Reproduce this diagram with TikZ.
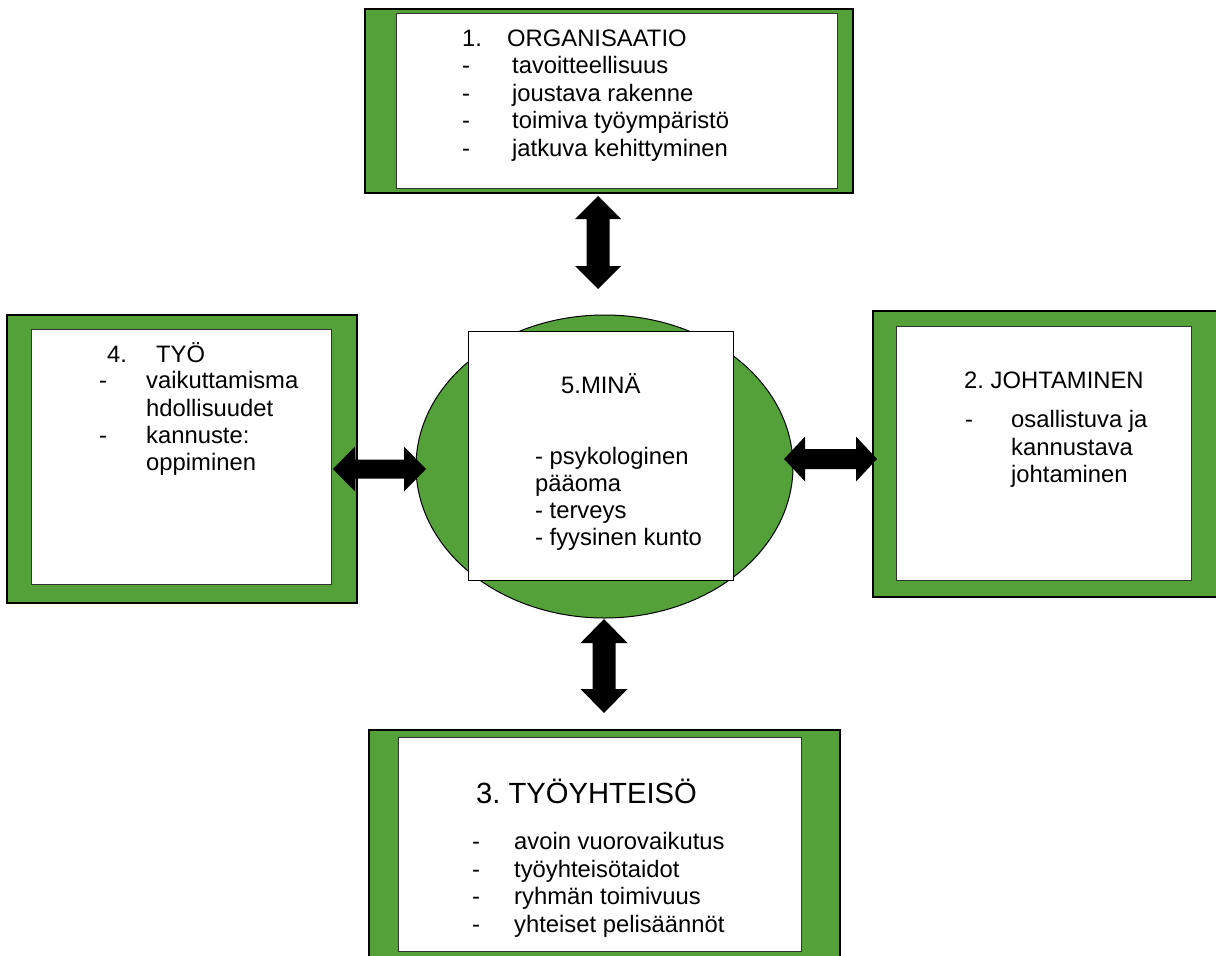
\documentclass[tikz,border=0pt]{standalone}
\usepackage{fontspec}
\setmainfont{Liberation Sans}
\frenchspacing
\usetikzlibrary{calc,shapes.geometric}
\definecolor{grn}{RGB}{84,161,58}
\begin{document}
\begin{tikzpicture}[x=1pt,y=-1pt,
  outerbox/.style={rectangle,fill=grn,draw=black,line width=2.5pt,inner sep=0pt},
  innerbox/.style={rectangle,fill=white,draw=black!80,line width=1pt,inner sep=0pt},
  oval/.style={ellipse,fill=grn,draw=black,line width=1pt,inner sep=0pt},
  txt/.style={anchor=base west,inner sep=0pt,font=\fontsize{23.8}{27}\selectfont\frenchspacing},
  big/.style={anchor=base west,inner sep=0pt,font=\fontsize{29.2}{33}\selectfont\frenchspacing},
  blockarrow/.style={fill=black}]
\useasboundingbox (0,0) rectangle (1216,956);
\clip (0,0) rectangle (1216,956);

% boxes
\node[outerbox,minimum width=488pt,minimum height=184pt] (orgO) at (609,101) {};
\node[innerbox,minimum width=441pt,minimum height=175pt] (org) at (616.5,100.5) {};
\node[outerbox,minimum width=350pt,minimum height=288pt] (tyoO) at (182,459) {};
\node[innerbox,minimum width=300pt,minimum height=255pt] (tyo) at (181,456.5) {};
\node[outerbox,minimum width=347pt,minimum height=286pt] (johO) at (1046.5,454) {};
\node[innerbox,minimum width=295pt,minimum height=254pt] (joh) at (1043.5,453) {};
\node[outerbox,minimum width=471pt,minimum height=240pt] (yhtO) at (604.5,850) {};
\node[innerbox,minimum width=403pt,minimum height=214pt] (yht) at (599.5,844) {};
\node[oval,minimum width=377pt,minimum height=303pt] (minaO) at (604.5,466.5) {};
\node[innerbox,draw=black,minimum width=265pt,minimum height=249pt] (mina) at (600.5,455.5) {};

% arrows (tips)
\coordinate (a1) at (598,196); \coordinate (a2) at (598,289);
\coordinate (b1) at (604,619); \coordinate (b2) at (604,713);
\coordinate (c1) at (333,469); \coordinate (c2) at (426,469);
\coordinate (d1) at (784,459); \coordinate (d2) at (877,459);

\fill[blockarrow] (a1) -- ($(a1)+(23,23)$) -- ($(a1)+(11.5,23)$) -- ($(a2)+(11.5,-23)$) -- ($(a2)+(23,-23)$) -- (a2)
  -- ($(a2)+(-23,-23)$) -- ($(a2)+(-11.5,-23)$) -- ($(a1)+(-11.5,23)$) -- ($(a1)+(-23,23)$) -- cycle;
\fill[blockarrow] (b1) -- ($(b1)+(23.5,24)$) -- ($(b1)+(11.5,24)$) -- ($(b2)+(11.5,-24)$) -- ($(b2)+(23.5,-24)$) -- (b2)
  -- ($(b2)+(-23.5,-24)$) -- ($(b2)+(-11.5,-24)$) -- ($(b1)+(-11.5,24)$) -- ($(b1)+(-23.5,24)$) -- cycle;
\fill[blockarrow] (c1) -- ($(c1)+(22,-22.5)$) -- ($(c1)+(22,-9.5)$) -- ($(c2)+(-22,-9.5)$) -- ($(c2)+(-22,-22.5)$) -- (c2)
  -- ($(c2)+(-22,22.5)$) -- ($(c2)+(-22,9.5)$) -- ($(c1)+(22,9.5)$) -- ($(c1)+(22,22.5)$) -- cycle;
\fill[blockarrow] (d1) -- ($(d1)+(21,-22.5)$) -- ($(d1)+(21,-10)$) -- ($(d2)+(-21,-10)$) -- ($(d2)+(-21,-22.5)$) -- (d2)
  -- ($(d2)+(-21,22.5)$) -- ($(d2)+(-21,10)$) -- ($(d1)+(21,10)$) -- ($(d1)+(21,22.5)$) -- cycle;

% 1. ORGANISAATIO
\node[txt] (o0a) at (462,46) {1.};
\node[txt] (o0b) at (507,46) {ORGANISAATIO};
\node[txt] (o1a) at (462,73.5) {-};
\node[txt] (o1b) at (512,73.5) {tavoitteellisuus};
\node[txt] (o2a) at (462,101) {-};
\node[txt] (o2b) at (512,101) {joustava rakenne};
\node[txt] (o3a) at (462,128.5) {-};
\node[txt] (o3b) at (512,128.5) {toimiva työympäristö};
\node[txt] (o4a) at (462,156) {-};
\node[txt] (o4b) at (512,156) {jatkuva kehittyminen};

% 4. TYÖ
\node[txt] (t0a) at (107,362) {4.};
\node[txt] (t0b) at (156,362) {TYÖ};
\node[txt] (t1a) at (99,388.5) {-};
\node[txt] (t1b) at (146,388.5) {vaikuttamisma};
\node[txt] (t2b) at (146,416) {hdollisuudet};
\node[txt] (t3a) at (99,443) {-};
\node[txt] (t3b) at (146,443) {kannuste:};
\node[txt] (t4b) at (146,470) {oppiminen};

% 2. JOHTAMINEN
\node[txt] (j0) at (964,388) {2. JOHTAMINEN};
\node[txt] (j1a) at (965,427) {-};
\node[txt] (j1b) at (1011,427) {osallistuva ja};
\node[txt] (j2b) at (1011,455) {kannustava};
\node[txt] (j3b) at (1011,482) {johtaminen};

% 5. MINÄ
\node[txt] (m0) at (561,393) {5.MINÄ};
\node[txt] (m1) at (535,464) {- psykologinen};
\node[txt] (m2) at (535,491) {pääoma};
\node[txt] (m3) at (535,518) {- terveys};
\node[txt] (m4) at (535,545) {- fyysinen kunto};

% 3. TYÖYHTEISÖ
\node[big] (y0) at (476,803) {3. TYÖYHTEISÖ};
\node[txt] (y1a) at (472,849.5) {-};
\node[txt] (y1b) at (514,849.5) {avoin vuorovaikutus};
\node[txt] (y2a) at (472,877) {-};
\node[txt] (y2b) at (514,877) {työyhteisötaidot};
\node[txt] (y3a) at (472,904.5) {-};
\node[txt] (y3b) at (514,904.5) {ryhmän toimivuus};
\node[txt] (y4a) at (472,932) {-};
\node[txt] (y4b) at (514,932) {yhteiset pelisäännöt};
\end{tikzpicture}
\end{document}
